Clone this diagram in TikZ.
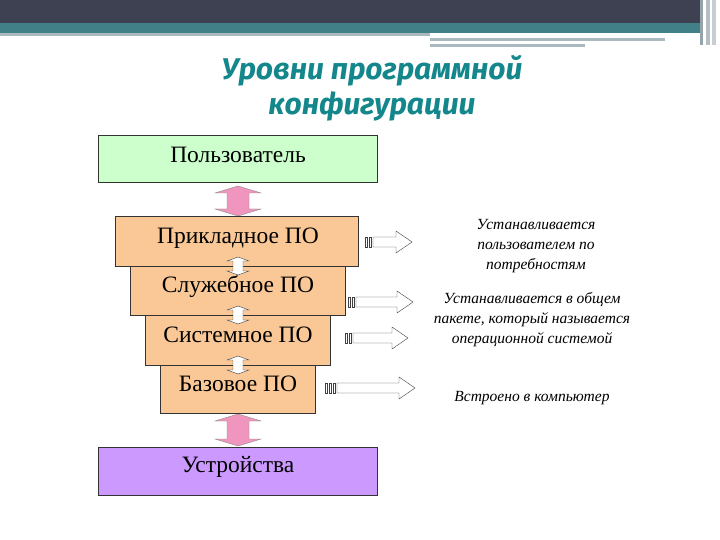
\documentclass[tikz,border=0pt]{standalone}
\usepackage{fontspec}
\setmainfont{Liberation Serif}
\newfontfamily\titlefont{Fira Sans}
\begin{document}
\begin{tikzpicture}[x=1pt,y=-1pt,
  lvl/.style={draw=black!80,fill={rgb,255:red,250;green,200;blue,150},anchor=north west,inner sep=0pt},
  big/.style={draw=black!80,anchor=north west,inner sep=0pt},
  lbl/.style={font=\fontsize{23.5}{25}\selectfont},
  pinkfill/.style={draw=black!45,fill={rgb,255:red,240;green,150;blue,190}},
  whitefill/.style={draw=black!75,fill=white},
  note/.style={font=\fontsize{15.5}{20}\selectfont\itshape,align=center}]
\def\varr#1#2#3#4#5#6#7{% cx,y1,y2,half shaft,half head,head len,style
  \draw[#7] (#1-#4,#2+#6) -- (#1-#5,#2+#6) -- (#1,#2) -- (#1+#5,#2+#6) -- (#1+#4,#2+#6)
    -- (#1+#4,#3-#6) -- (#1+#5,#3-#6) -- (#1,#3) -- (#1-#5,#3-#6) -- (#1-#4,#3-#6) -- cycle;}
\def\harr#1#2#3#4{% x1,y,x2,ntails
  \draw[whitefill] (#1+#4*4,#2-5) -- (#3-16,#2-5) -- (#3-16,#2-11) -- (#3,#2) -- (#3-16,#2+11) -- (#3-16,#2+5) -- (#1+#4*4,#2+5) -- cycle;
  \foreach \i in {1,...,#4}{\draw[whitefill] ({#1+(\i-1)*4},#2-5) rectangle ++(2.5,10);}}
\useasboundingbox (0,0) rectangle (720,540);
\fill[fill=white] (0,0) rectangle (720,540);
% header
\fill[color={rgb,255:red,62;green,65;blue,82}] (0,0) rectangle (700,23);
\fill[color={rgb,255:red,66;green,128;blue,136}] (0,23) rectangle (700,33);
\fill[color={rgb,255:red,170;green,185;blue,190}] (0,33) rectangle (430,36);
\fill[color={rgb,255:red,170;green,185;blue,190}] (430,38) rectangle (665,41);
\fill[color={rgb,255:red,170;green,185;blue,190}] (430,44) rectangle (585,47);
\fill[color={rgb,255:red,150;green,165;blue,170}] (700,0) rectangle (703,45);
\fill[color={rgb,255:red,180;green,190;blue,195}] (706,0) rectangle (710,45);
\fill[color={rgb,255:red,200;green,205;blue,210}] (712,0) rectangle (716,45);
% title
\node[font=\titlefont\bfseries\itshape\fontsize{30}{35}\selectfont,text={rgb,255:red,20;green,135;blue,140},align=center] (title) at (372,88) {Уровни программной\\конфигурации};
% boxes
\node[big,fill={rgb,255:red,204;green,255;blue,204},minimum width=279pt,minimum height=47pt] (user) at (98,135) {};
\node[lbl] at (238,155) {Пользователь};
\node[lvl,minimum width=243pt,minimum height=50pt] (app) at (115,216) {};
\node[lbl] at (238,238) {Прикладное ПО};
\node[lvl,minimum width=215pt,minimum height=49pt] (srv) at (130,266) {};
\node[lbl] at (238,287) {Служебное ПО};
\node[lvl,minimum width=185pt,minimum height=50pt] (sys) at (145,315) {};
\node[lbl] at (238,335) {Системное ПО};
\node[lvl,minimum width=155pt,minimum height=48pt] (base) at (160,365) {};
\node[lbl] at (238,384) {Базовое ПО};
\node[big,fill={rgb,255:red,204;green,153;blue,255},minimum width=279pt,minimum height=48pt] (dev) at (98,447) {};
\node[lbl] at (238,467) {Устройства};
% vertical arrows
\varr{238}{186}{216}{11}{23}{7}{pinkfill}
\varr{238}{414}{446}{11}{23}{7}{pinkfill}
\varr{238}{257}{275}{5}{11}{4}{whitefill}
\varr{238}{306}{324}{5}{11}{4}{whitefill}
\varr{238}{356}{374}{5}{11}{4}{whitefill}
% right arrows
\harr{365}{242}{412}{2}
\harr{348}{302}{413}{2}
\harr{345}{338}{408}{2}
\harr{325}{388}{415}{3}
% notes
\node[note] (n1) at (536,246) {Устанавливается\\пользователем по\\потребностям};
\node[note] (n2) at (532,320) {Устанавливается в общем\\пакете, который называется\\операционной системой};
\node[note] (n3) at (532,398) {Встроено в компьютер};
\end{tikzpicture}
\end{document}
